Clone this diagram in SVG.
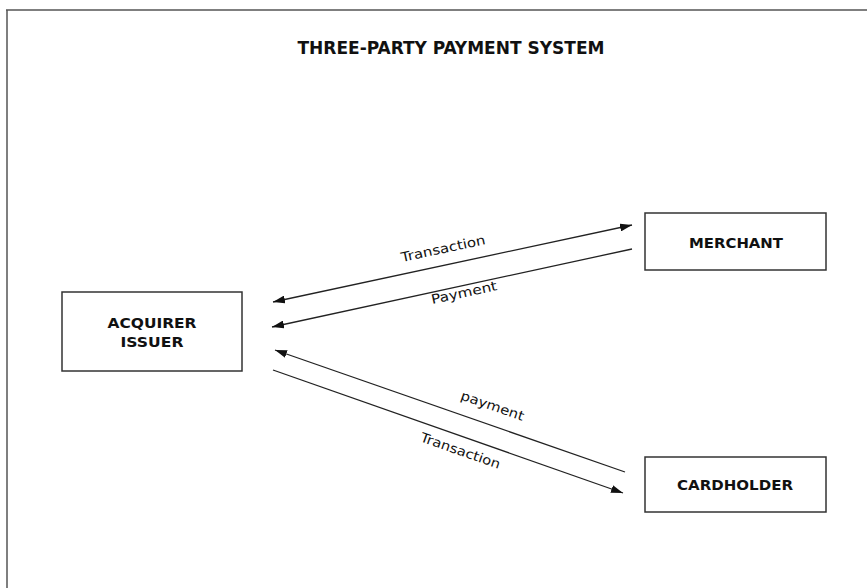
<svg xmlns="http://www.w3.org/2000/svg" width="867" height="588" viewBox="0 0 867 588">
<style>
.box{fill:#fff;stroke:#333;stroke-width:1.5}
.lbl{font-family:"DejaVu Sans","Liberation Sans",sans-serif;font-weight:bold;font-size:14px;fill:#111;text-anchor:middle}
.edge{stroke:#222;stroke-width:1.3;fill:none}
.elbl{font-family:"DejaVu Sans","Liberation Sans",sans-serif;font-size:13px;fill:#111;text-anchor:middle}
.title{font-family:"DejaVu Sans Condensed","DejaVu Sans",sans-serif;font-weight:bold;font-size:17px;fill:#111;text-anchor:middle}
</style>
<defs>
<marker id="ah" viewBox="0 0 12 8" refX="12" refY="4" markerWidth="12" markerHeight="8" markerUnits="userSpaceOnUse" orient="auto">
<path d="M0,0 L12,4 L0,8 Z" fill="#111"/>
</marker>
<marker id="ahs" viewBox="0 0 12 8" refX="0" refY="4" markerWidth="12" markerHeight="8" markerUnits="userSpaceOnUse" orient="auto">
<path d="M12,0 L0,4 L12,8 Z" fill="#111"/>
</marker>
</defs>
<rect x="0" y="0" width="867" height="588" fill="#fff"/>
<g id="frame">
<path d="M6,10 H867 M7,10 V588" stroke="#555" stroke-width="1.5" fill="none"/>
</g>
<text class="title" x="451" y="54" textLength="307" lengthAdjust="spacingAndGlyphs">THREE-PARTY PAYMENT SYSTEM</text>
<g id="acquirer-issuer">
<rect class="box" x="62" y="292" width="180" height="79"/>
<text class="lbl" x="152" y="328" textLength="89" lengthAdjust="spacingAndGlyphs">ACQUIRER</text>
<text class="lbl" x="152" y="347" textLength="63" lengthAdjust="spacingAndGlyphs">ISSUER</text>
</g>
<g id="merchant">
<rect class="box" x="645" y="213" width="181" height="57"/>
<text class="lbl" x="736" y="248" textLength="94" lengthAdjust="spacingAndGlyphs">MERCHANT</text>
</g>
<g id="cardholder">
<rect class="box" x="645" y="457" width="181" height="55"/>
<text class="lbl" x="735" y="490" textLength="116" lengthAdjust="spacingAndGlyphs">CARDHOLDER</text>
</g>
<g id="connectors">
<line class="edge" x1="273" y1="302" x2="632" y2="225" marker-start="url(#ahs)" marker-end="url(#ah)"/>
<line class="edge" x1="632" y1="249" x2="272" y2="327" marker-end="url(#ah)"/>
<line class="edge" x1="625" y1="472" x2="275" y2="350" marker-end="url(#ah)"/>
<line class="edge" x1="273" y1="370" x2="623" y2="493" marker-end="url(#ah)"/>
</g>
<g id="edge-labels">
<text class="elbl" x="444" y="253" transform="rotate(-12.1 444 253)" textLength="86" lengthAdjust="spacingAndGlyphs">Transaction</text>
<text class="elbl" x="465" y="297" transform="rotate(-12.2 465 297)" textLength="67" lengthAdjust="spacingAndGlyphs">Payment</text>
<text class="elbl" x="491" y="410" transform="rotate(19.2 491 410)" textLength="66" lengthAdjust="spacingAndGlyphs">payment</text>
<text class="elbl" x="459" y="455" transform="rotate(19.4 459 455)" textLength="84" lengthAdjust="spacingAndGlyphs">Transaction</text>
</g>
</svg>
